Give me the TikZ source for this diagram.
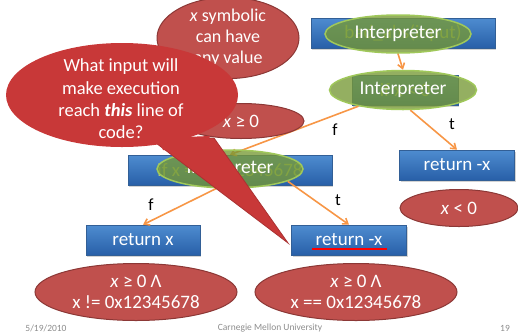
\documentclass[tikz,border=0pt]{standalone}
\usepackage{fontspec}
\setmainfont{Carlito}
\usetikzlibrary{shapes.geometric,arrows.meta,shadows}
\definecolor{boxtop}{RGB}{78,140,208}
\definecolor{boxbot}{RGB}{40,95,168}
\definecolor{boxline}{RGB}{50,95,150}
\definecolor{greenfill}{RGB}{118,152,52}
\definecolor{greenline}{RGB}{160,200,90}
\definecolor{redfill}{RGB}{192,80,77}
\definecolor{redline}{RGB}{140,56,54}
\definecolor{callfill}{RGB}{200,56,56}
\definecolor{callline}{RGB}{170,50,50}
\definecolor{arrowc}{RGB}{247,150,70}
\definecolor{fadetext}{RGB}{175,205,120}
\definecolor{footc}{RGB}{140,140,140}
\tikzset{
  codebox/.style={rectangle, draw=boxline, line width=0.6pt,
    top color=boxtop, bottom color=boxbot, text=white,
    font=\fontsize{19}{19}\selectfont, inner sep=0pt,
    drop shadow={shadow xshift=1pt, shadow yshift=-1.5pt, opacity=0.35}},
  interp/.style={ellipse, draw=greenline, line width=1.5pt,
    fill=greenfill, fill opacity=0.78, text opacity=1, text=white,
    font=\fontsize{19.5}{19.5}\selectfont, inner sep=0pt},
  cond/.style={ellipse, draw=redline, line width=1pt, fill=redfill,
    text=white, align=center, inner sep=0pt,
    font=\fontsize{19}{21}\selectfont},
  flow/.style={draw=arrowc, line width=1.6pt,
    -{Straight Barb[length=5pt,width=7pt]}},
  flowlabel/.style={font=\fontsize{17}{17}\selectfont, text=black},
  foot/.style={font=\fontsize{9.5}{10}\selectfont, text=footc},
}
\begin{document}
\begin{tikzpicture}[x=1pt,y=-1pt]
\useasboundingbox (0,0) rectangle (518,335);

% initial path condition
\node[cond, font=\fontsize{18}{21}\selectfont,
  minimum width=142pt, minimum height=68pt] (any) at (228,38)
  {\textit{x} symbolic\\can have\\any value};

% code blocks
\node[codebox, minimum width=184pt, minimum height=30pt] (call) at (403,33)
  {\textcolor{fadetext}{bad\_abs(input)}};
\node[codebox, minimum width=106pt, minimum height=30pt] (if1) at (405,90)
  {\textcolor{fadetext}{if x < 0}};
\node[codebox, minimum width=204pt, minimum height=30pt] (if2) at (230,170)
  {\textcolor{fadetext}{if x == 0x12345678}};
\node[codebox, minimum width=115pt, minimum height=30pt] (ret1) at (457,165) {return -x};
\node[codebox, minimum width=114pt, minimum height=30pt] (ret2) at (143,240) {return x};
\node[codebox, minimum width=115pt, minimum height=30pt] (ret3) at (349,240) {return -x};
\draw[red, line width=1.5pt] ([xshift=-37pt,yshift=-9pt]ret3.center) -- ([xshift=38pt,yshift=-9pt]ret3.center);

% interpreter ellipses
\node[interp, minimum width=146pt, minimum height=38pt] (i1) at (398,34) {Interpreter};
\node[interp, minimum width=147pt, minimum height=39pt] (i2) at (403,90) {Interpreter};

% branches
\draw[flow] (i1.south) -- (i2.north);
\draw[flow] (i2.-70) -- (ret1.north);
\node[flowlabel] at (452,124) {t};
\draw[flow] (i2.200) -- (if2.north);
\node[flowlabel] at (335,130) {f};

\node[cond, minimum width=126pt, minimum height=35pt] (pos) at (241,121) {\textit{x} ≥ 0};

\node[interp, minimum width=146pt, minimum height=38pt] (i3) at (230,169) {Interpreter};
\draw[flow] (i3.235) -- (ret2.north);
\node[flowlabel] at (151,205) {f};
\draw[flow] (i3.-12) -- (ret3.north);
\node[flowlabel] at (338,200) {t};

% path conditions
\node[cond, minimum width=118pt, minimum height=37pt] (neg) at (459,208) {\textit{x} < 0};
\node[cond, minimum width=202pt, minimum height=57pt] (pc2) at (136,292)
  {\textit{x} ≥ 0 Λ\\x != 0x12345678};
\node[cond, minimum width=202pt, minimum height=57pt] (pc3) at (356,292)
  {\textit{x} ≥ 0 Λ\\x == 0x12345678};

% question callout
\coordinate (tip) at (288,243);
\fill[callfill, draw=callline, line width=0.8pt]
  (152,140) -- (tip) -- (214,138) -- cycle;
\node[ellipse, fill=callfill, minimum width=232pt, minimum height=104pt,
  inner sep=0pt] (ask) at (122,95) {};
\fill[callfill] (158,138) -- (210,136) -- (206,150) -- (163,150) -- cycle;
\node[text=white, align=center, font=\fontsize{18.5}{22.3}\selectfont] (asktext) at (121,99)
  {What input will\\make execution\\reach \textbf{\textit{this}} line of\\code?};

% footer
\node[foot] (date) at (46,328) {5/19/2010};
\node[foot] (org) at (270,328) {Carnegie Mellon University};
\node[foot] (page) at (505,328) {19};
\end{tikzpicture}
\end{document}
